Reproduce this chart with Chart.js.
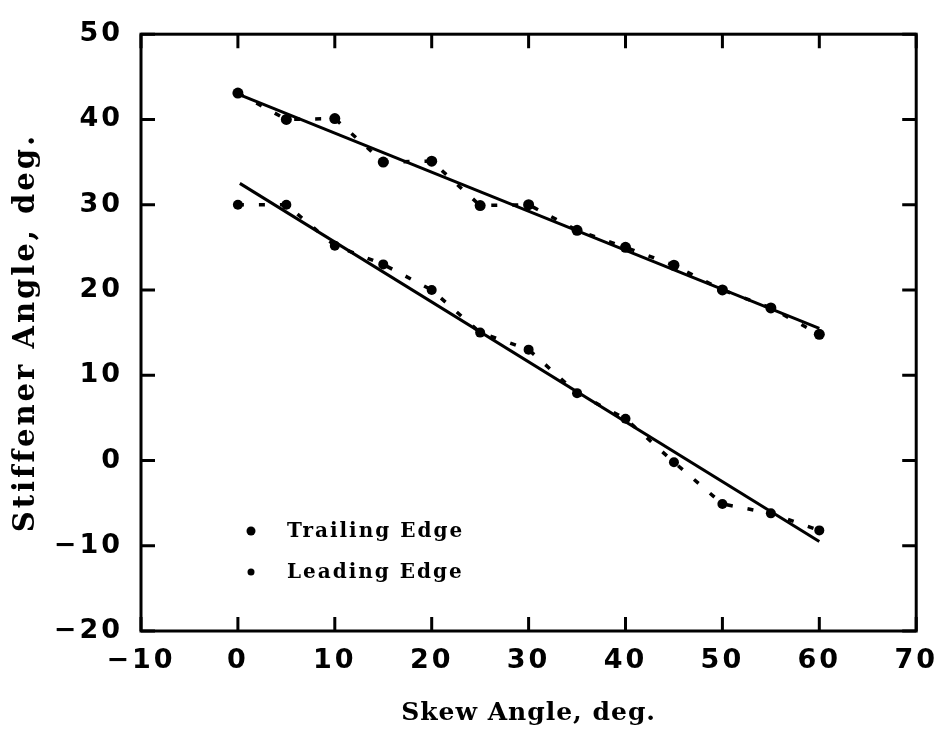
<!DOCTYPE html>
<html>
<head>
<meta charset="utf-8">
<script src="https://cdn.jsdelivr.net/npm/chart.js@4/dist/chart.umd.min.js"></script>
<style>
  html, body { margin: 0; padding: 0; background: #fff; }
  #c { display: block; }
</style>
</head>
<body>
<canvas id="c" width="949" height="734"></canvas>
<script>
// ---- data ----
const skewAngles = [0, 5, 10, 15, 20, 25, 30, 35, 40, 45, 50, 55, 60];
const trailingEdge = [43.1, 40, 40.1, 35, 35.1, 29.9, 30, 27, 25, 22.9, 20, 17.9, 14.8];
const leadingEdge  = [30, 30, 25.2, 23, 20, 15, 13, 7.9, 4.9, -0.2, -5.1, -6.2, -8.2];

// fitted straight lines (end points)
const trailingFitX = [0.4, 60];
const trailingFitY = [42.8, 15.5];
const leadingFitX  = [0.2, 60];
const leadingFitY  = [32.5, -9.5];

const xTickLabels = ['\u221210', '0', '10', '20', '30', '40', '50', '60', '70'];
const xTickValues = [-10, 0, 10, 20, 30, 40, 50, 60, 70];
const yTickLabels = ['\u221220', '\u221210', '0', '10', '20', '30', '40', '50'];
const yTickValues = [-20, -10, 0, 10, 20, 30, 40, 50];

const seriesNames = ['Trailing Edge', 'Leading Edge'];

const pts = (xs, ys) => xs.map((x, i) => ({ x: x, y: ys[i] }));

const tickFont = { family: 'DejaVu Sans', weight: 'bold', size: 27 };

const framePlugin = {
  id: 'frame',
  afterLayout(chart) {
    const xs = chart.scales.x;
    if (xs && !xs._patchedTitle) {
      const orig = xs.drawTitle;
      xs.drawTitle = function () {
        const ctx = this.ctx;
        const prev = ctx.letterSpacing;
        ctx.letterSpacing = '1px';
        orig.apply(this, arguments);
        ctx.letterSpacing = prev;
      };
      xs._patchedTitle = true;
    }
  },
  beforeDraw(chart) {
    chart.ctx.letterSpacing = '3px';
  },
  afterDraw(chart) {
    const ctx = chart.ctx;
    const { left, right, top, bottom } = chart.chartArea;
    const xs = chart.scales.x, ys = chart.scales.y;
    ctx.save();
    ctx.letterSpacing = '0px';
    ctx.strokeStyle = '#000';
    ctx.lineWidth = 3;
    ctx.strokeRect(left, top, right - left, bottom - top);
    const L = 14;
    ctx.beginPath();
    xs.ticks.forEach(t => {
      const p = xs.getPixelForValue(t.value);
      ctx.moveTo(p, bottom); ctx.lineTo(p, bottom - L);
      ctx.moveTo(p, top); ctx.lineTo(p, top + L);
    });
    ys.ticks.forEach(t => {
      const p = ys.getPixelForValue(t.value);
      ctx.moveTo(left, p); ctx.lineTo(left + L, p);
      ctx.moveTo(right, p); ctx.lineTo(right - L, p);
    });
    ctx.stroke();

    // legend inside plot area
    ctx.letterSpacing = '2px';
    ctx.fillStyle = '#000';
    ctx.font = 'bold 20px "DejaVu Serif"';
    ctx.textBaseline = 'middle';
    ctx.textAlign = 'left';
    const lx = left + 110, tx = left + 146;
    const rows = [
      { y: bottom - 100, r: 4.5, label: seriesNames[0] },
      { y: bottom - 59, r: 3.5, label: seriesNames[1] }
    ];
    rows.forEach(row => {
      ctx.beginPath();
      ctx.arc(lx, row.y, row.r, 0, Math.PI * 2);
      ctx.fill();
      ctx.fillText(row.label, tx, row.y + 1);
    });
    ctx.restore();
  }
};

const dashedStyle = {
  showLine: true,
  borderColor: '#000',
  borderWidth: 3.5,
  borderDash: [6, 15],
  pointBackgroundColor: '#000',
  pointBorderWidth: 0
};

new Chart(document.getElementById('c'), {
  type: 'scatter',
  data: {
    datasets: [
      Object.assign({ label: seriesNames[0], data: pts(skewAngles, trailingEdge), pointRadius: 5.5 }, dashedStyle),
      Object.assign({ label: seriesNames[1], data: pts(skewAngles, leadingEdge), pointRadius: 5 }, dashedStyle),
      {
        label: 'Trailing fit',
        data: pts(trailingFitX, trailingFitY),
        showLine: true,
        borderColor: '#000',
        borderWidth: 3,
        pointRadius: 0
      },
      {
        label: 'Leading fit',
        data: pts(leadingFitX, leadingFitY),
        showLine: true,
        borderColor: '#000',
        borderWidth: 3,
        pointRadius: 0
      }
    ]
  },
  options: {
    responsive: false,
    animation: false,
    devicePixelRatio: 1,
    layout: { padding: { left: 0, top: 25, right: 21, bottom: 0 } },
    plugins: { legend: { display: false }, tooltip: { enabled: false } },
    scales: {
      x: {
        type: 'linear',
        min: -10, max: 70,
        afterBuildTicks: s => { s.ticks = xTickValues.map(v => ({ value: v })); },
        ticks: {
          color: '#000',
          font: tickFont,
          padding: 14,
          maxRotation: 0,
          callback: v => xTickLabels[xTickValues.indexOf(v)]
        },
        grid: { display: false, drawTicks: false },
        border: { display: false },
        title: {
          display: true,
          text: 'Skew Angle, deg.',
          color: '#000',
          font: { family: 'DejaVu Serif', weight: 'bold', size: 25 },
          padding: { top: 0, bottom: 6 }
        },
        afterFit: s => { s.height = 103; }
      },
      y: {
        type: 'linear',
        min: -20, max: 50,
        afterBuildTicks: s => { s.ticks = yTickValues.map(v => ({ value: v })); },
        ticks: {
          color: '#000',
          font: tickFont,
          padding: 18,
          callback: v => yTickLabels[yTickValues.indexOf(v)]
        },
        grid: { display: false, drawTicks: false },
        border: { display: false },
        title: {
          display: true,
          text: 'Stiffener Angle, deg.',
          color: '#000',
          font: { family: 'DejaVu Serif', weight: 'bold', size: 29 },
          padding: { top: 9, bottom: 0 }
        },
        afterFit: s => { s.width = 141; }
      }
    }
  },
  plugins: [framePlugin]
});
</script>
</body>
</html>
